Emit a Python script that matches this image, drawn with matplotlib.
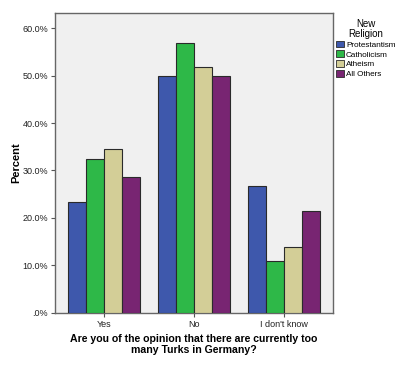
import numpy as np
import matplotlib.pyplot as plt
from matplotlib.patches import Patch

plt.rcParams["font.family"] = ["Liberation Sans", "DejaVu Sans"]

categories = ["Yes", "No", "I don't know"]
religions = ["Protestantism", "Catholicism", "Atheism", "All Others"]
protestantism = [23.3, 50.0, 26.7]
catholicism = [32.5, 56.8, 10.8]
atheism = [34.5, 51.8, 13.8]
all_others = [28.6, 50.0, 21.4]
series = [protestantism, catholicism, atheism, all_others]
colors = ["#3e58ac", "#2eb848", "#d3ce97", "#782572"]

fig = plt.figure(figsize=(4.0, 3.67), dpi=100)
ax = fig.add_axes([55/400, 1 - 312.7/367, 278/400, (312.7 - 13)/367])
ax.set_facecolor("#f0f0f0")

x = np.arange(len(categories))
w = 0.2
for i, (vals, col) in enumerate(zip(series, colors)):
    ax.bar(x + (i - 1.5)*w, vals, width=w, color=col, edgecolor="#2a2a2a",
           linewidth=0.8, zorder=3)

ax.set_xlim(-0.55, 2.55)
ax.set_ylim(0, 63.2)
yt = np.arange(0, 61, 10)
ax.set_yticks(yt)
ax.set_yticklabels([".0%"] + [f"{v:.1f}%" for v in yt[1:]])
ax.set_xticks(x)
ax.set_xticklabels(categories)
ax.tick_params(labelsize=6.5, length=3, width=0.8, color="#555555",
               labelcolor="#222222", pad=2)
for s in ax.spines.values():
    s.set_color("#666666")
    s.set_linewidth(1.0)

ax.set_ylabel("Percent", fontsize=8, fontweight="bold", labelpad=1)
ax.set_xlabel("Are you of the opinion that there are currently too\n"
              "many Turks in Germany?", fontsize=7.6, fontweight="bold",
              labelpad=4, linespacing=1.05)

handles = [Patch(facecolor=c, edgecolor="#2a2a2a", linewidth=0.6) for c in colors]
leg = fig.legend(handles, religions, loc="upper left",
                 bbox_to_anchor=(333/400, 1 - 16/367), frameon=False,
                 fontsize=5.9, title="New\nReligion", title_fontsize=7,
                 handlelength=0.9, handleheight=0.9, handletextpad=0.3,
                 labelspacing=0.2, borderaxespad=0)
leg.get_title().set_multialignment("center")
leg.get_title().set_linespacing(0.95)

fig.savefig("out.png", dpi=100)
